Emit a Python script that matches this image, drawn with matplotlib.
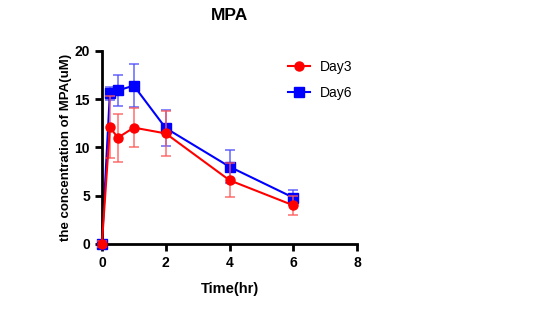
import matplotlib.pyplot as plt
from matplotlib.lines import Line2D

plt.rcParams['font.family'] = ['Liberation Sans', 'DejaVu Sans']

# 시간(hr)
time = [0, 0.25, 0.5, 1, 2, 4, 6]
# Day3 평균 / 오차
day3 = [0, 12.1, 11.0, 12.05, 11.45, 6.6, 4.0]
day3_err = [0.3, 3.2, 2.5, 2.05, 2.35, 1.75, 1.0]
# Day6 평균 / 오차
day6 = [0, 15.6, 15.9, 16.4, 12.0, 8.0, 4.8]
day6_err = [0.3, 0.7, 1.65, 2.2, 1.9, 1.7, 0.8]

fig = plt.figure(figsize=(5.42, 3.24), dpi=100)
ax = fig.add_axes([0.188, 0.247, 0.471, 0.596])

ax.errorbar(time, day3, yerr=day3_err, color='red', marker='o', markersize=6.5,
            linewidth=1.5, ecolor=(1, 0.35, 0.35, 0.8), elinewidth=1.2, capsize=3.5,
            capthick=1.2, clip_on=False, zorder=3)
ax.errorbar(time, day6, yerr=day6_err, color='blue', marker='s', markersize=6.5,
            linewidth=1.5, ecolor=(0.3, 0.3, 1, 0.8), elinewidth=1.2, capsize=3.5,
            capthick=1.2, clip_on=False, zorder=2)

ax.set_xlim(0, 8)
ax.set_ylim(0, 20)
ax.set_xticks([0, 2, 4, 6, 8])
ax.set_yticks([0, 5, 10, 15, 20])
for s in ['top', 'right']:
    ax.spines[s].set_visible(False)
for s in ['left', 'bottom']:
    ax.spines[s].set_linewidth(2)
ax.tick_params(width=2, length=5, labelsize=10)
for lab in ax.get_xticklabels() + ax.get_yticklabels():
    lab.set_fontweight('bold')

ax.set_title('MPA', fontsize=12.5, fontweight='bold', pad=22)
ax.set_xlabel('Time(hr)', fontsize=10.5, fontweight='bold', labelpad=9)
ax.set_ylabel('the concentration of MPA(uM)', fontsize=9.5, fontweight='bold', labelpad=2)

# 범례 : 선 + 마커만
h = [Line2D([], [], color='red', marker='o', markersize=6.5, linewidth=1.5),
     Line2D([], [], color='blue', marker='s', markersize=6.5, linewidth=1.5)]
ax.legend(h, ['Day3', 'Day6'], loc='upper left', bbox_to_anchor=(0.68, 1.02), frameon=False,
          fontsize=10, handlelength=1.6, handletextpad=0.7, labelspacing=0.9)

plt.savefig('out.png', dpi=100)
